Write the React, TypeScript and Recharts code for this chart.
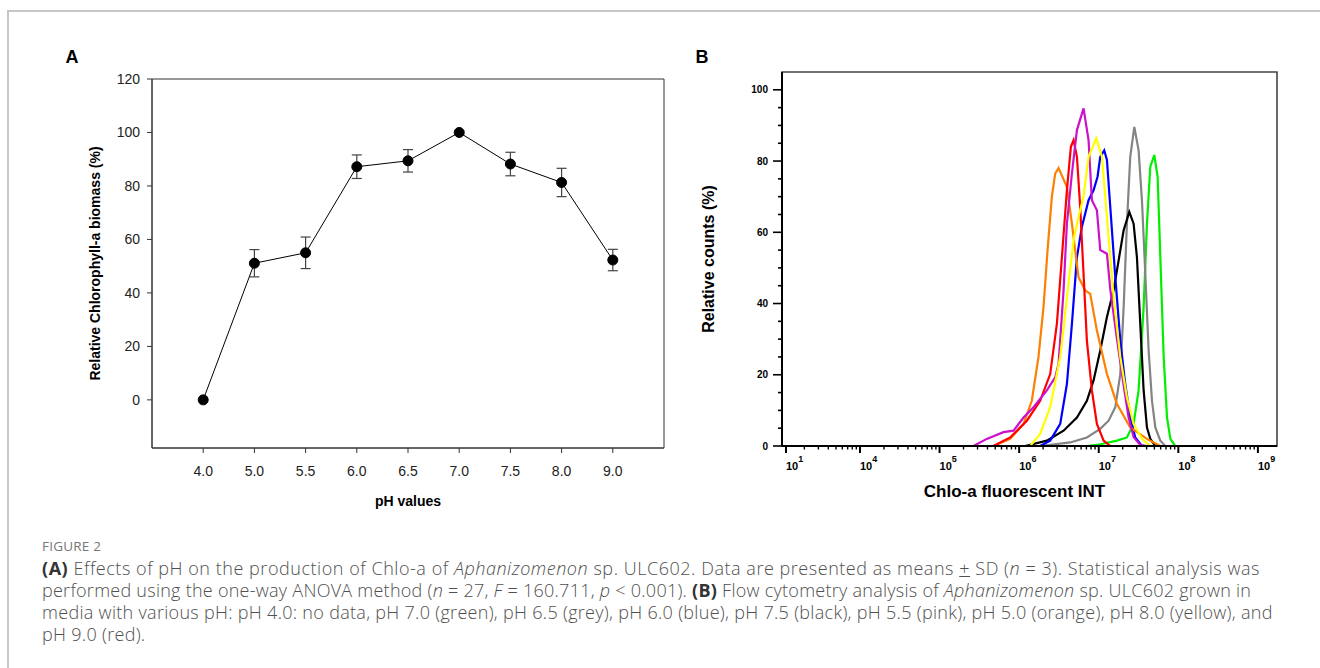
import React from 'react';
import { LineChart, Line, XAxis, YAxis, ErrorBar, ReferenceArea, Label } from 'recharts';

const FONT = '"Liberation Sans", Arial, Helvetica, sans-serif';
const CAPTION_FONT = '"Open Sans", "Noto Sans", sans-serif';

// ---------- Panel A: relative Chl-a biomass vs pH ----------
const phLabels = ['4.0', '5.0', '5.5', '6.0', '6.5', '7.0', '7.5', '8.0', '9.0'];
const phPositions = [1, 2, 3, 4, 5, 6, 7, 8, 9];
const chlaMean = [0, 51.1, 55.0, 87.2, 89.4, 100, 88.2, 81.3, 52.3];
const chlaSD = [0, 5.1, 5.9, 4.4, 4.2, 0.5, 4.4, 5.3, 4.0];
const aYTicks = [0, 20, 40, 60, 80, 100, 120];
const aYDomain: [number, number] = [-18, 120];
const aXDomain: [number, number] = [0, 10];

// ---------- Panel B: flow cytometry histograms (x = log10 intensity) ----------
const bXDomain: [number, number] = [3.02, 9.24];
const bYDomain: [number, number] = [0, 105];
const bYMajor = [0, 20, 40, 60, 80, 100];
const bYMinor = [5, 10, 15, 25, 30, 35, 45, 50, 55, 65, 70, 75, 85, 90, 95];
const bXMajor = [3.07, 4, 5, 6, 7, 8, 9];
const bXMajorExp = ['1', '4', '5', '6', '7', '8', '9'];
const logMinorOffsets = [0.301, 0.477, 0.602, 0.699, 0.778, 0.845, 0.903, 0.954];
const bXDecades = [3, 4, 5, 6, 7, 8];

const ph70Green: [number, number][] = [
  [3.02, 0], [6.851, 0], [7.019, 0.5], [7.229, 1.5], [7.354, 2.4], [7.438, 6.2], [7.501, 15.6],
  [7.564, 39], [7.606, 62.4], [7.648, 78.4], [7.698, 81.7], [7.740, 75.6], [7.774, 53],
  [7.816, 25], [7.858, 8], [7.900, 2], [7.962, 0], [9.24, 0],
];
const ph65Grey: [number, number][] = [
  [3.02, 0], [6.264, 0], [6.642, 1], [6.851, 2.4], [7.019, 4.8], [7.124, 7.1], [7.208, 10.9],
  [7.271, 20.2], [7.313, 39], [7.354, 62.4], [7.396, 81.2], [7.447, 89.6], [7.501, 83],
  [7.543, 69], [7.585, 48.4], [7.627, 26.8], [7.669, 12.7], [7.711, 5.2], [7.774, 1.5],
  [7.837, 0], [9.24, 0],
];
const ph75Black: [number, number][] = [
  [3.02, 0], [6.076, 0], [6.348, 1.5], [6.558, 4.3], [6.726, 8], [6.851, 12.7], [6.935, 18.4],
  [7.019, 26.8], [7.103, 36.2], [7.187, 43.7], [7.250, 52.1], [7.313, 60.6], [7.384, 65.7],
  [7.438, 62.4], [7.480, 53], [7.522, 34.3], [7.564, 15.6], [7.606, 5.2], [7.648, 2],
  [7.711, 0], [9.24, 0],
];
const ph60Blue: [number, number][] = [
  [3.02, 0], [6.264, 0], [6.390, 1.5], [6.516, 6.2], [6.600, 17.4], [6.663, 34.3], [6.726, 53],
  [6.788, 61.5], [6.872, 69], [6.935, 71.8], [6.985, 75.6], [7.019, 81.2], [7.069, 83],
  [7.103, 80.3], [7.145, 67.1], [7.208, 47.4], [7.271, 29.6], [7.333, 17.4], [7.396, 8],
  [7.459, 2.4], [7.543, 0], [9.24, 0],
];
const ph50Orange: [number, number][] = [
  [3.02, 0], [5.677, 0], [5.887, 2], [6.055, 6.2], [6.159, 12.7], [6.243, 25], [6.306, 39],
  [6.357, 55], [6.411, 70], [6.453, 76.5], [6.495, 78], [6.600, 72.7], [6.663, 62.4],
  [6.746, 47.4], [6.830, 43.7], [6.893, 42.7], [6.977, 32.4], [7.103, 20.2], [7.229, 11.8],
  [7.396, 5.2], [7.606, 2], [7.774, 0], [9.24, 0],
];
const ph90Red: [number, number][] = [
  [3.02, 0], [5.677, 0], [5.887, 2.4], [6.097, 7.1], [6.264, 12.7], [6.390, 20.2], [6.474, 34.3],
  [6.537, 53], [6.600, 71.8], [6.650, 84], [6.684, 85.9], [6.726, 81.2], [6.767, 67.1],
  [6.809, 48.4], [6.851, 29.6], [6.914, 15.6], [6.977, 6.2], [7.061, 1.5], [7.145, 0], [9.24, 0],
];
const ph55Pink: [number, number][] = [
  [3.02, 0], [5.426, 0], [5.593, 2], [5.803, 3.9], [5.929, 4.3], [6.055, 8], [6.180, 10.9],
  [6.348, 15.6], [6.453, 19.3], [6.495, 23], [6.558, 43.7], [6.600, 62.4], [6.663, 76.5],
  [6.726, 88.7], [6.809, 94.8], [6.872, 85.9], [6.914, 69], [6.977, 66.2], [7.019, 55],
  [7.103, 54], [7.145, 44], [7.229, 30], [7.313, 17], [7.375, 8], [7.438, 2.5], [7.522, 0.3],
  [7.60, 0], [9.24, 0],
];
const ph80Yellow: [number, number][] = [
  [3.02, 0], [6.139, 0], [6.264, 3.4], [6.390, 10.9], [6.516, 25], [6.558, 33], [6.600, 41.8],
  [6.684, 57.8], [6.746, 64.3], [6.809, 70], [6.872, 81.2], [6.969, 86.4], [7.040, 81.2],
  [7.103, 64.3], [7.187, 41.8], [7.271, 25], [7.354, 13.7], [7.438, 6.2], [7.543, 2],
  [7.648, 0], [9.24, 0],
];

const bSeries = [
  { name: 'pH 7.0', color: '#00ee00', points: ph70Green },
  { name: 'pH 6.5', color: '#848484', points: ph65Grey },
  { name: 'pH 7.5', color: '#000000', points: ph75Black },
  { name: 'pH 6.0', color: '#0000ff', points: ph60Blue },
  { name: 'pH 5.0', color: '#ff7f00', points: ph50Orange },
  { name: 'pH 9.0', color: '#ff0000', points: ph90Red },
  { name: 'pH 5.5', color: '#cc11cc', points: ph55Pink },
  { name: 'pH 8.0', color: '#ffff00', points: ph80Yellow },
];

const dataA = phPositions.map((pos, i) => ({ pos, mean: chlaMean[i], sd: chlaSD[i] }));
const bXMinor = bXDecades.flatMap((d) => logMinorOffsets.map((o) => +(d + o).toFixed(3)));
const bXTicks = [...bXMajor, ...bXMinor].sort((a, b) => a - b);
const bYTicks = [...bYMajor, ...bYMinor].sort((a, b) => a - b);

const BYTick = (props: any) => {
  const { x, y, payload } = props;
  const v = payload.value;
  const major = bYMajor.includes(v);
  return (
    <g>
      <line x1={x - (major ? 9 : 4)} x2={x} y1={y} y2={y} stroke="#000" strokeWidth={1.6} />
      {major && (
        <text x={x - 14} y={y} dy="0.35em" textAnchor="end" fontSize={10} fontWeight="bold" fontFamily={FONT} fill="#000">
          {v}
        </text>
      )}
    </g>
  );
};

const BXTick = (props: any) => {
  const { x, y, payload } = props;
  const v = payload.value;
  const mi = bXMajor.indexOf(v);
  const major = mi >= 0;
  return (
    <g>
      <line x1={x} x2={x} y1={y} y2={y + (major ? 7 : 3.5)} stroke="#000" strokeWidth={major ? 2 : 1.4} />
      {major && (
        <text x={x} y={y + 24} textAnchor="start" fontSize={11} fontWeight="bold" fontFamily={FONT} fill="#000">
          10
          <tspan dy={-8} fontSize={9}>{bXMajorExp[mi]}</tspan>
        </text>
      )}
    </g>
  );
};

const rotLabel = (text: string, dx: number, size: number) => (props: any) => {
  const vb = props.viewBox || { x: 0, y: 0, width: 0, height: 0 };
  const x = vb.x + dx;
  const y = vb.y + vb.height / 2;
  return (
    <text x={x} y={y} transform={`rotate(-90 ${x} ${y})`} textAnchor="middle" dominantBaseline="central"
      fontSize={size} fontWeight="bold" fontFamily={FONT} fill="#000">
      {text}
    </text>
  );
};

const bottomLabel = (text: string, dy: number, size: number, dx = 0) => (props: any) => {
  const vb = props.viewBox || { x: 0, y: 0, width: 0, height: 0 };
  const x = vb.x + vb.width / 2 + dx;
  const y = vb.y + dy;
  return (
    <text x={x} y={y} textAnchor="middle" dominantBaseline="central" fontSize={size} fontWeight="bold" fontFamily={FONT} fill="#000">
      {text}
    </text>
  );
};

const panelLetter = (letter: string, left: number, top: number) => (
  <div style={{ position: 'absolute', left, top, transform: 'translate(-50%, -50%)', fontFamily: FONT, fontWeight: 700, fontSize: 18, lineHeight: 1, color: '#000' }}>
    {letter}
  </div>
);

const boldStyle = { color: '#333', fontWeight: 700 } as const;

export default function App() {
  return (
    <div style={{ position: 'absolute', left: 0, top: 0, width: 1320, height: 668, background: '#fff', overflow: 'hidden' }}>
      <div style={{ position: 'absolute', left: 7, top: 10, width: 1320, height: 670, borderTop: '2px solid #c6c6c6', borderLeft: '2px solid #c6c6c6' }} />

      {panelLetter('A', 72, 57)}
      {panelLetter('B', 702, 57)}

      <div style={{ position: 'absolute', left: 0, top: 0 }}>
        <LineChart width={680} height={520} data={dataA} margin={{ top: 79, right: 16, bottom: 32, left: 92 }}>
          <ReferenceArea x1={aXDomain[0]} x2={aXDomain[1]} y1={aYDomain[0]} y2={aYDomain[1]} fill="none" stroke="#333" strokeWidth={1} ifOverflow="visible" />
          <XAxis dataKey="pos" type="number" domain={aXDomain} ticks={phPositions} interval={0}
            tickFormatter={(v: number) => phLabels[v - 1]} tickSize={5} tickMargin={13} height={40}
            stroke="#333" tick={{ fill: '#222', fontSize: 14, fontFamily: FONT }} allowDataOverflow>
            <Label content={bottomLabel('pH values', 53, 14)} />
          </XAxis>
          <YAxis type="number" domain={aYDomain} ticks={aYTicks} interval={0} width={60} tickSize={5} tickMargin={7}
            stroke="#333" tick={{ fill: '#222', fontSize: 14, fontFamily: FONT }} allowDataOverflow>
            <Label content={rotLabel('Relative Chlorophyll-a biomass (%)', 3, 14)} />
          </YAxis>
          <Line dataKey="mean" type="linear" stroke="#000" strokeWidth={1} isAnimationActive={false}
            dot={{ r: 5, fill: '#000', stroke: '#000', strokeWidth: 1 }} activeDot={false}>
            <ErrorBar dataKey="sd" width={5} stroke="#444" strokeWidth={1.2} direction="y" />
          </Line>
        </LineChart>
      </div>

      <div style={{ position: 'absolute', left: 680, top: 0 }}>
        <LineChart width={640} height={520} margin={{ top: 72, right: 43, bottom: 34, left: 62 }}>
          <ReferenceArea x1={bXDomain[0]} x2={bXDomain[1]} y1={bYDomain[0]} y2={bYDomain[1]} fill="none" stroke="#444" strokeWidth={1.6} ifOverflow="visible" />
          <XAxis dataKey="x" type="number" domain={bXDomain} ticks={bXTicks} interval={0} tickSize={0} tickMargin={0}
            tickLine={false} tick={(p: any) => <BXTick {...p} />} axisLine={{ stroke: '#000', strokeWidth: 2 }} height={40} allowDataOverflow>
            <Label content={bottomLabel('Chlo-a fluorescent INT', 45, 17, -15)} />
          </XAxis>
          <YAxis type="number" domain={bYDomain} ticks={bYTicks} interval={0} width={40} tickSize={0} tickMargin={0}
            tickLine={false} tick={(p: any) => <BYTick {...p} />} axisLine={{ stroke: '#000', strokeWidth: 2 }} allowDataOverflow>
            <Label content={rotLabel('Relative counts (%)', -34, 16)} />
          </YAxis>
          {bSeries.map((s) => (
            <Line key={s.name} name={s.name} data={s.points.map(([x, y]) => ({ x, y }))} dataKey="y" type="linear"
              stroke={s.color} strokeWidth={2.2} dot={false} activeDot={false} isAnimationActive={false} />
          ))}
        </LineChart>
      </div>

      <div style={{ position: 'absolute', left: 42, top: 535, fontFamily: CAPTION_FONT, fontSize: 18, fontWeight: 300, lineHeight: '22px', color: '#505050', whiteSpace: 'nowrap' }}>
        <div style={{ fontSize: 13.5, color: '#777', letterSpacing: 0.2, fontWeight: 400 }}>FIGURE 2</div>
        <div style={{ letterSpacing: 0.54 }}>
          <b style={boldStyle}>(A)</b> Effects of pH on the production of Chlo-a of <i>Aphanizomenon</i> sp. ULC602. Data are presented as means <span style={{ textDecoration: 'underline' }}>+</span> SD (<i>n</i> = 3). Statistical analysis was
        </div>
        <div style={{ letterSpacing: 0.26 }}>
          performed using the one-way ANOVA method (<i>n</i> = 27, <i>F</i> = 160.711, <i>p</i> &lt; 0.001). <b style={boldStyle}>(B)</b> Flow cytometry analysis of <i>Aphanizomenon</i> sp. ULC602 grown in
        </div>
        <div style={{ letterSpacing: 0.3 }}>
          media with various pH: pH 4.0: no data, pH 7.0 (green), pH 6.5 (grey), pH 6.0 (blue), pH 7.5 (black), pH 5.5 (pink), pH 5.0 (orange), pH 8.0 (yellow), and
        </div>
        <div style={{ letterSpacing: 0.3 }}>pH 9.0 (red).</div>
      </div>
    </div>
  );
}
